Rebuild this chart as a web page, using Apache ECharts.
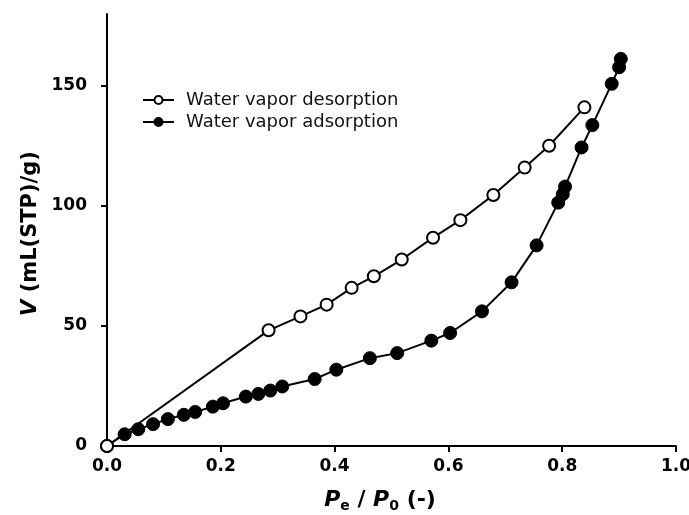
<!DOCTYPE html>
<html>
<head>
<meta charset="utf-8">
<script src="https://cdn.jsdelivr.net/npm/echarts@6/dist/echarts.min.js"></script>
<style>
  html, body { margin: 0; padding: 0; background: #fff; }
  #chart { width: 689px; height: 515px; }
</style>
</head>
<body>
<div id="chart"></div>
<script>
// desorption branch (open circles)
const desX = [0, 0.284, 0.340, 0.386, 0.430, 0.469, 0.518, 0.573, 0.621, 0.679, 0.734, 0.777, 0.839]
const desY = [0, 48.2, 54.0, 58.9, 65.9, 70.7, 77.7, 86.8, 94.1, 104.6, 116.0, 125.1, 141.1]

// adsorption branch (filled circles)
const adsX = [0, 0.031, 0.055, 0.081, 0.107, 0.135, 0.155, 0.186, 0.204, 0.244, 0.266, 0.287, 0.308,
    0.365, 0.403, 0.462, 0.510, 0.570, 0.603, 0.659, 0.711, 0.755, 0.793, 0.801, 0.805,
    0.834, 0.853, 0.887, 0.900, 0.903]
const adsY = [0, 4.9, 7.0, 9.1, 11.2, 13.0, 14.2, 16.4, 17.8, 20.6, 21.7, 23.1, 24.8,
    27.9, 31.8, 36.6, 38.7, 43.9, 47.1, 56.1, 68.2, 83.6, 101.4, 104.9, 108.1,
    124.4, 133.7, 150.9, 157.8, 161.3]

const seriesNames = ['Water vapor desorption', 'Water vapor adsorption']
const xTicks = [0, 0.2, 0.4, 0.6, 0.8, 1.0]
const yTicks = [0, 50, 100, 150]

const font = 'DejaVu Sans, Liberation Sans, sans-serif'
const zip = (xs, ys) => xs.map((x, i) => [x, ys[i]])

const myChart = echarts.init(document.getElementById('chart'))

const option = {
    animation: false,
    grid: {
        left: 107,
        right: 13,
        top: 14,
        bottom: 69,
        containLabel: false,
        outerBoundsMode: 'none'
    },
    legend: {
        left: 137,
        top: 86,
        orient: 'vertical',
        itemWidth: 31,
        itemHeight: 10,
        itemGap: 4,
        textStyle: {
            fontFamily: font,
            fontSize: 18,
            color: '#111',
            padding: [0, 0, 0, 7]
        },
        data: seriesNames
    },
    xAxis: {
        type: 'value',
        min: 0,
        max: 1,
        interval: 0.2,
        splitLine: {show: false},
        axisLine: {lineStyle: {color: '#000', width: 2}},
        axisTick: {show: true, length: 6, customValues: xTicks, lineStyle: {color: '#000', width: 2}},
        axisLabel: {
            color: '#000',
            fontFamily: font,
            fontWeight: 'bold',
            fontSize: 17,
            margin: 12,
            customValues: xTicks,
            formatter: v => v.toFixed(1)
        },
        name: '{pi|P}{sub|e}{n| / }{pi|P}{sub|0}{n| (-)}',
        nameLocation: 'middle',
        nameGap: 42,
        nameTextStyle: {
            padding: [0, 23, 0, 0],
            rich: {
                pi: {fontFamily: font, fontWeight: 'bold', fontStyle: 'italic', fontSize: 22, color: '#000'},
                n: {fontFamily: font, fontWeight: 'bold', fontSize: 22, color: '#000'},
                sub: {fontFamily: font, fontWeight: 'bold', fontSize: 14, color: '#000', verticalAlign: 'bottom', padding: [11, 0, 0, 0]}
            }
        }
    },
    yAxis: {
        type: 'value',
        min: 0,
        max: 180,
        interval: 50,
        splitLine: {show: false},
        axisLine: {lineStyle: {color: '#000', width: 2}},
        axisTick: {show: true, length: 6, customValues: yTicks, lineStyle: {color: '#000', width: 2}},
        axisLabel: {
            color: '#000',
            fontFamily: font,
            fontWeight: 'bold',
            fontSize: 17,
            margin: 20,
            customValues: yTicks,
            formatter: v => String(v)
        },
        name: '{vi|V}{n| (mL(STP)/g)}',
        nameLocation: 'middle',
        nameRotate: 90,
        nameGap: 62,
        nameTextStyle: {
            padding: [0, 7, 0, 0],
            rich: {
                vi: {fontFamily: font, fontWeight: 'bold', fontStyle: 'italic', fontSize: 21, color: '#000'},
                n: {fontFamily: font, fontWeight: 'bold', fontSize: 21, color: '#000'}
            }
        }
    },
    series: [
        {
            name: seriesNames[0],
            type: 'line',
            z: 3,
            data: zip(desX, desY),
            symbol: 'circle',
            symbolSize: 12,
            lineStyle: {color: '#000', width: 2},
            itemStyle: {color: '#fff', borderColor: '#000', borderWidth: 2}
        },
        {
            name: seriesNames[1],
            type: 'line',
            z: 2,
            data: zip(adsX, adsY),
            symbol: 'circle',
            symbolSize: 13,
            lineStyle: {color: '#000', width: 2},
            itemStyle: {color: '#000', borderColor: '#000', borderWidth: 1}
        }
    ]
}

option && myChart.setOption(option)
</script>
</body>
</html>
